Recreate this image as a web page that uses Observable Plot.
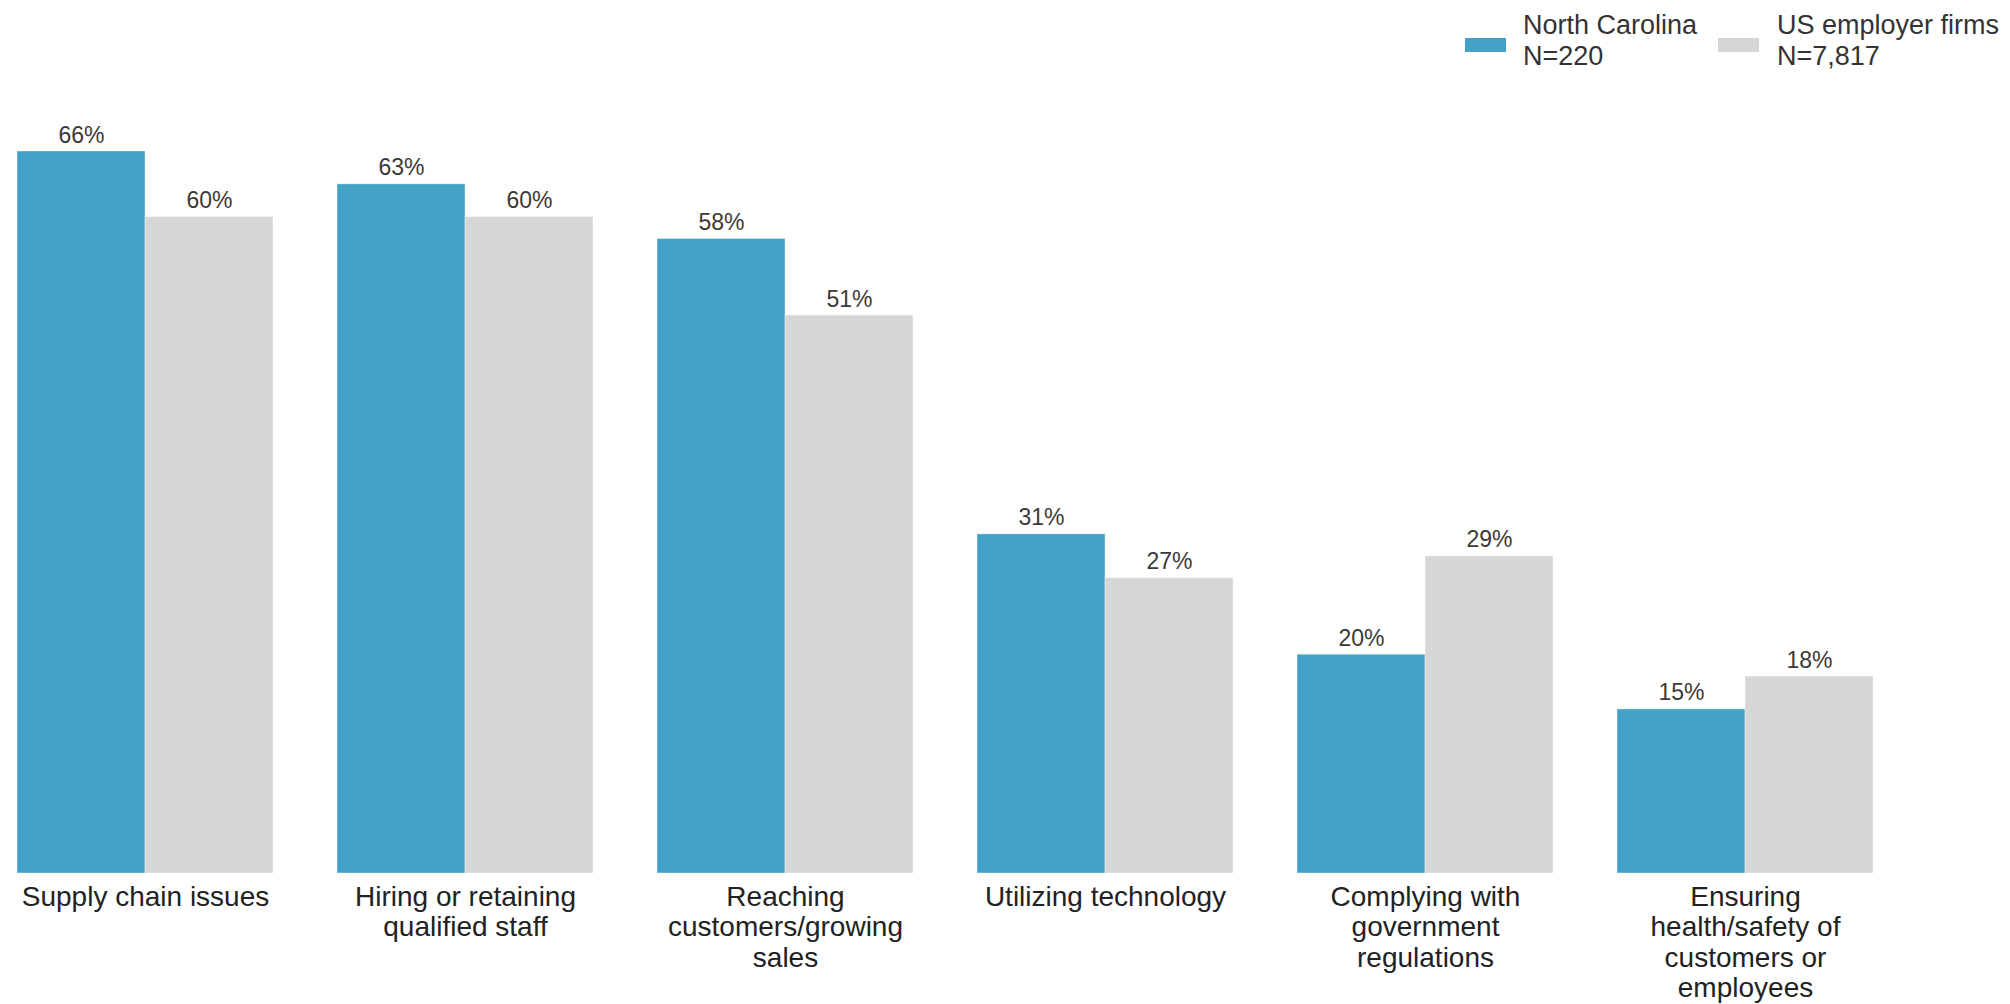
<!DOCTYPE html>
<html>
<head>
<meta charset="utf-8">
<script src="https://cdn.jsdelivr.net/npm/d3@7"></script>
<script src="https://cdn.jsdelivr.net/npm/@observablehq/plot@0.6"></script>
<style>
  html, body { margin: 0; padding: 0; background: #fff; }
  body { width: 2010px; height: 1004px; position: relative; overflow: hidden; font-family: "Liberation Sans", Arial, sans-serif; }
  #chart { position: absolute; left: 0; top: 0; }
  .legend { position: absolute; font-family: "Liberation Sans", Arial, sans-serif; font-size: 27px; line-height: 31px; color: #333; white-space: nowrap; }
  .swatch { position: absolute; width: 41px; height: 14px; }
</style>
</head>
<body>
<div id="chart"></div>
<div id="legend"></div>
<script>
const categories = [
  "Supply chain issues",
  "Hiring or retaining qualified staff",
  "Reaching customers/growing sales",
  "Utilizing technology",
  "Complying with government regulations",
  "Ensuring health/safety of customers or employees"
];
const tickLabels = [
  "Supply chain issues",
  "Hiring or retaining\nqualified staff",
  "Reaching\ncustomers/growing\nsales",
  "Utilizing technology",
  "Complying with\ngovernment\nregulations",
  "Ensuring\nhealth/safety of\ncustomers or\nemployees"
];
const series = ["North Carolina", "US employer firms"];
const seriesN = ["N=220", "N=7,817"];
const colors = ["#42A3C7", "#D6D6D6"];
const northCarolina = [66, 63, 58, 31, 20, 15];
const usFirms = [60, 60, 51, 27, 29, 18];

const data = [];
categories.forEach((c, i) => {
  data.push({category: c, series: series[0], value: northCarolina[i]});
  data.push({category: c, series: series[1], value: usFirms[i]});
});
const labelOf = new Map(categories.map((c, i) => [c, tickLabels[i]]));

const chart = Plot.plot({
  width: 2010,
  height: 1004,
  marginLeft: 15,
  marginRight: 136,
  marginTop: 151,
  marginBottom: 131,
  style: {fontFamily: "'Liberation Sans', Arial, sans-serif", background: "#fff", overflow: "visible"},
  fx: {domain: categories, paddingInner: 0.2, paddingOuter: 0, label: null},
  x: {domain: series, padding: 0, axis: null},
  y: {domain: [0, 66], axis: null},
  color: {domain: series, range: colors},
  marks: [
    Plot.barY(data, {fx: "category", x: "series", y: "value", fill: "series", inset: 0, stroke: "#fff", strokeOpacity: 0.35, strokeWidth: 1}),
    Plot.text(data, {fx: "category", x: "series", y: "value", text: d => d.value + "%", lineAnchor: "bottom", dy: -9, fontSize: 23, fill: "#3a3a3a"}),
    Plot.axisFx({anchor: "bottom", tickSize: 0, tickPadding: 11, fontSize: 28, lineHeight: 1.085, fill: "#222", tickFormat: d => labelOf.get(d), label: null})
  ]
});
document.getElementById("chart").appendChild(chart);

// Legend
const legend = document.getElementById("legend");
const swX = [1465, 1718];
const txX = [1523, 1777];
series.forEach((s, i) => {
  const sw = document.createElement("div");
  sw.className = "swatch";
  sw.style.left = swX[i] + "px";
  sw.style.top = "38px";
  sw.style.background = colors[i];
  legend.appendChild(sw);
  const tx = document.createElement("div");
  tx.className = "legend";
  tx.style.left = txX[i] + "px";
  tx.style.top = "10px";
  tx.innerHTML = s + "<br>" + seriesN[i];
  legend.appendChild(tx);
});
</script>
</body>
</html>
